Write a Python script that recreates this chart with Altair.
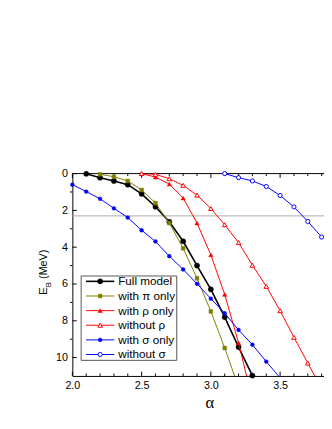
import altair as alt
import pandas as pd

# ---------------- data ----------------
series_names = ["Full model", "with π only", "with ρ only", "without ρ", "with σ only", "without σ"]

full_alpha = [2.1, 2.2, 2.3, 2.4, 2.5, 2.6, 2.7, 2.8, 2.9, 3.0, 3.1, 3.2, 3.3]
full_E = [0.01, 0.22, 0.40, 0.60, 1.10, 1.80, 2.62, 3.68, 5.00, 6.29, 7.80, 9.43, 10.98]

pi_alpha = [2.2, 2.3, 2.4, 2.5, 2.6, 2.7, 2.8, 2.9, 3.0, 3.1, 3.2]
pi_E = [0.04, 0.17, 0.40, 0.89, 1.60, 2.69, 4.06, 5.69, 7.49, 9.48, 11.6]

rho_alpha = [2.5, 2.6, 2.7, 2.8, 2.9, 3.0, 3.1, 3.2, 3.3]
rho_E = [0.0, 0.19, 0.57, 1.33, 2.69, 4.42, 6.57, 9.20, 12.3]

norho_alpha = [2.5, 2.6, 2.7, 2.8, 2.9, 3.0, 3.1, 3.2, 3.3, 3.4, 3.5, 3.6, 3.7, 3.8]
norho_E = [0.0, 0.04, 0.28, 0.64, 1.17, 1.90, 2.78, 3.75, 4.98, 6.13, 7.45, 8.90, 10.3, 11.7]

sigma_alpha = [2.0, 2.1, 2.2, 2.3, 2.4, 2.5, 2.6, 2.7, 2.8, 2.9, 3.0, 3.1, 3.2, 3.3, 3.4, 3.5]
sigma_E = [0.60, 0.98, 1.37, 1.89, 2.39, 3.08, 3.69, 4.49, 5.21, 5.99, 6.80, 7.59, 8.50, 9.30, 10.22, 11.1]

nosigma_alpha = [3.1, 3.2, 3.3, 3.4, 3.5, 3.6, 3.7, 3.8]
nosigma_E = [0.0, 0.22, 0.40, 0.70, 1.19, 1.81, 2.60, 3.45]

x_major = [2.0, 2.5, 3.0, 3.5]
x_minor = [2.1, 2.2, 2.3, 2.4, 2.6, 2.7, 2.8, 2.9, 3.1, 3.2, 3.3, 3.4, 3.6, 3.7, 3.8]
y_major = [0, 2, 4, 6, 8, 10]
y_minor = [1, 3, 5, 7, 9]
ref_E = [2.3]

series_data = {
    "Full model": (full_alpha, full_E),
    "with π only": (pi_alpha, pi_E),
    "with ρ only": (rho_alpha, rho_E),
    "without ρ": (norho_alpha, norho_E),
    "with σ only": (sigma_alpha, sigma_E),
    "without σ": (nosigma_alpha, nosigma_E),
}

# ---------------- styles ----------------
styles = {
    "Full model": dict(color="#000000", shape="circle", open=False, size=28, lw=1.6),
    "with π only": dict(color="#808000", shape="square", open=False, size=15, lw=1.0),
    "with ρ only": dict(color="#ff0000", shape="triangle-up", open=False, size=20, lw=1.0),
    "without ρ": dict(color="#ff0000", shape="triangle-up", open=True, size=22, lw=1.0),
    "with σ only": dict(color="#0000ff", shape="circle", open=False, size=15, lw=1.0),
    "without σ": dict(color="#0000ff", shape="circle", open=True, size=18, lw=1.0),
}

W = 258
H = 207.5
FONT = "Liberation Sans"

xscale = alt.Scale(domain=[2.0, 3.817], nice=False, zero=False)
yscale = alt.Scale(domain=[0, 11], reverse=True, nice=False, zero=False)
xaxis = alt.Axis(values=x_major, format=".1f", tickSize=0, labelPadding=4, grid=False,
                 title=None, domainColor="black", domainWidth=1, labelFontSize=11,
                 labelFont=FONT, labelColor="black", labelFlush=False)
yaxis = alt.Axis(values=y_major, format="d", tickSize=0, labelPadding=5, grid=False,
                 title=None, domainColor="black", domainWidth=1, labelFontSize=11,
                 labelFont=FONT, labelColor="black")


def X():
    return alt.X("alpha:Q", scale=xscale, axis=xaxis)


def Y():
    return alt.Y("E:Q", scale=yscale, axis=yaxis)


dummy = pd.DataFrame({"k": [0]})
layers = []

# reference line
layers.append(alt.Chart(pd.DataFrame({"E": ref_E})).mark_rule(color="#aaaaaa", strokeWidth=1)
              .encode(y=Y(), x=alt.value(0), x2=alt.value(W)))
# top frame line
layers.append(alt.Chart(dummy).mark_rule(color="black", strokeWidth=1)
              .encode(y=alt.value(0), x=alt.value(0), x2=alt.value(W)))

# ticks
xmaj = pd.DataFrame({"alpha": x_major})
xmin = pd.DataFrame({"alpha": x_minor})
ymaj = pd.DataFrame({"E": y_major})
ymin = pd.DataFrame({"E": y_minor})
layers.append(alt.Chart(xmaj).mark_rule(color="black").encode(x=X(), y=alt.value(H), y2=alt.value(H - 4.5)))
layers.append(alt.Chart(xmin).mark_rule(color="black").encode(x=X(), y=alt.value(H), y2=alt.value(H - 2.5)))
layers.append(alt.Chart(xmaj).mark_rule(color="black").encode(x=X(), y=alt.value(0), y2=alt.value(4.5)))
layers.append(alt.Chart(xmin).mark_rule(color="black").encode(x=X(), y=alt.value(0), y2=alt.value(2.5)))
layers.append(alt.Chart(ymaj).mark_rule(color="black").encode(y=Y(), x=alt.value(0), x2=alt.value(4.5)))
layers.append(alt.Chart(ymin).mark_rule(color="black").encode(y=Y(), x=alt.value(-2.5), x2=alt.value(0)))


def point_mark(st):
    if st["open"]:
        return dict(shape=st["shape"], size=st["size"], filled=True, fill="white",
                    stroke=st["color"], strokeWidth=1, opacity=1)
    return dict(shape=st["shape"], size=st["size"], filled=True, fill=st["color"],
                stroke=st["color"], strokeWidth=0.5, opacity=1)


# series
for name in series_names:
    a, e = series_data[name]
    df = pd.DataFrame({"alpha": a, "E": e})
    st = styles[name]
    layers.append(alt.Chart(df).mark_line(color=st["color"], strokeWidth=st["lw"], clip=True)
                  .encode(x=X(), y=Y()))
    layers.append(alt.Chart(df).transform_filter("datum.E <= 11.05")
                  .mark_point(**point_mark(st)).encode(x=X(), y=Y()))

# legend
layers.append(alt.Chart(dummy).mark_rect(fill="white", stroke="#555555", strokeWidth=1)
              .encode(x=alt.value(9), x2=alt.value(107), y=alt.value(105), y2=alt.value(191.5)))
for i, name in enumerate(series_names):
    st = styles[name]
    yy = 110.5 + 15 * i
    layers.append(alt.Chart(dummy).mark_rule(color=st["color"], strokeWidth=st["lw"])
                  .encode(x=alt.value(14), x2=alt.value(43), y=alt.value(yy)))
    layers.append(alt.Chart(dummy).mark_point(**point_mark(st))
                  .encode(x=alt.value(28.5), y=alt.value(yy)))
    layers.append(alt.Chart(dummy).mark_text(align="left", baseline="middle", font=FONT,
                                             fontSize=12, color="black")
                  .encode(x=alt.value(47), y=alt.value(yy), text=alt.value(name)))

# axis titles
layers.append(alt.Chart(dummy).mark_text(angle=270, align="left", baseline="alphabetic",
                                         font=FONT, fontSize=12, color="black")
              .encode(x=alt.value(-26), y=alt.value(124.5), text=alt.value("E")))
layers.append(alt.Chart(dummy).mark_text(angle=270, align="left", baseline="alphabetic",
                                         font=FONT, fontSize=8, color="black")
              .encode(x=alt.value(-21.5), y=alt.value(116.5), text=alt.value("B")))
layers.append(alt.Chart(dummy).mark_text(angle=270, align="left", baseline="alphabetic",
                                         font=FONT, fontSize=11, color="black")
              .encode(x=alt.value(-26), y=alt.value(108), text=alt.value("(MeV)")))
layers.append(alt.Chart(dummy).mark_text(align="center", baseline="middle",
                                         font="Liberation Serif", fontSize=17, color="black")
              .encode(x=alt.value(141), y=alt.value(235.5), text=alt.value("α")))

chart = alt.layer(*layers).properties(
    width=W, height=H,
    autosize=alt.AutoSizeParams(type="none"),
    padding={"left": 66, "top": 164.5, "right": 0, "bottom": 45},
).configure_view(stroke=None)

chart.save("out.html", embed_options={"renderer": "svg", "actions": False})
